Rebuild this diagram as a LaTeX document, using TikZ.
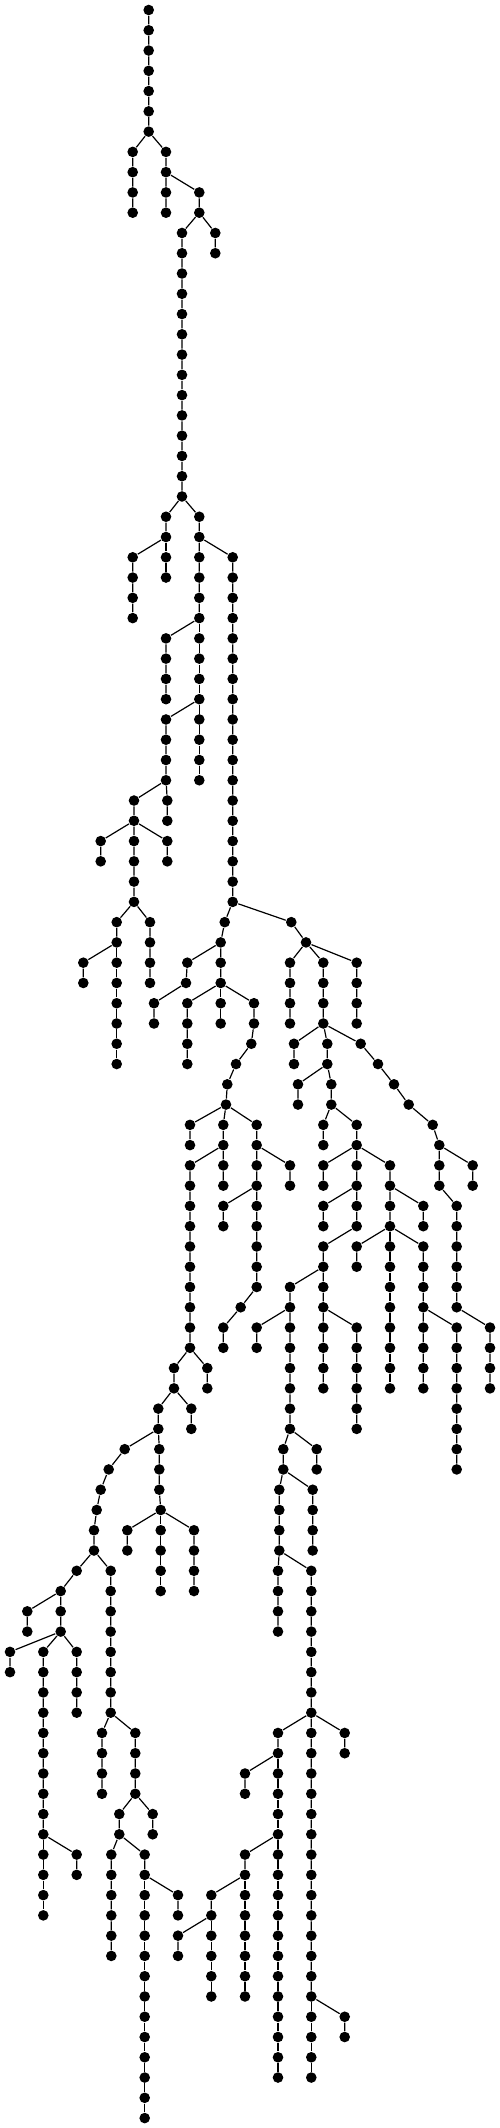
\documentclass[tikz,border=0pt]{standalone}
\usepackage{tikz}

\begin{document}
\begin{tikzpicture}[x=1pt,y=-20.27pt,line width=1.2pt,
	vtx/.style={circle,fill=black,inner sep=0pt,minimum size=10.6pt}]
\useasboundingbox (0,-0.4933) rectangle (500,104.49);
\node[vtx] (0) at (148.7,0) {}; \node[vtx] (1) at (148.7,1) {}; \node[vtx] (2) at (148.7,2) {};
\node[vtx] (3) at (148.7,3) {}; \node[vtx] (4) at (148.7,4) {}; \node[vtx] (5) at (148.7,5) {};
\node[vtx] (6) at (148.7,6) {};
\node[vtx] (7) at (132.7,7) {}; \node[vtx] (8) at (132.7,8) {}; \node[vtx] (9) at (132.7,9) {}; \node[vtx] (10) at (132.7,10) {};
\node[vtx] (11) at (166,7) {}; \node[vtx] (12) at (166,8) {}; \node[vtx] (13) at (166,9) {}; \node[vtx] (14) at (166,10) {};
\node[vtx] (15) at (199.3,9) {}; \node[vtx] (16) at (199.3,10) {};
\node[vtx] (17) at (215.3,11) {}; \node[vtx] (18) at (215.3,12) {};
\node[vtx] (19) at (182,11) {}; \node[vtx] (20) at (182,12) {}; \node[vtx] (21) at (182,13) {}; \node[vtx] (22) at (182,14) {};
\node[vtx] (23) at (182,15) {}; \node[vtx] (24) at (182,16) {}; \node[vtx] (25) at (182,17) {}; \node[vtx] (26) at (182,18) {};
\node[vtx] (27) at (182,19) {}; \node[vtx] (28) at (182,20) {}; \node[vtx] (29) at (182,21) {}; \node[vtx] (30) at (182,22) {};
\node[vtx] (31) at (182,23) {}; \node[vtx] (32) at (182,24) {};
\node[vtx] (33) at (166,25) {}; \node[vtx] (34) at (166,26) {};
\node[vtx] (35) at (132.7,27) {}; \node[vtx] (36) at (132.7,28) {}; \node[vtx] (37) at (132.7,29) {}; \node[vtx] (38) at (132.7,30) {};
\node[vtx] (39) at (166,27) {}; \node[vtx] (40) at (166,28) {};
\node[vtx] (41) at (199.3,25) {}; \node[vtx] (42) at (199.3,26) {};
\node[vtx] (43) at (232.7,27) {}; \node[vtx] (44) at (232.7,28) {}; \node[vtx] (45) at (232.7,29) {}; \node[vtx] (46) at (232.7,30) {};
\node[vtx] (47) at (232.7,31) {}; \node[vtx] (48) at (232.7,32) {}; \node[vtx] (49) at (232.7,33) {}; \node[vtx] (50) at (232.7,34) {};
\node[vtx] (51) at (232.7,35) {}; \node[vtx] (52) at (232.7,36) {}; \node[vtx] (53) at (232.7,37) {}; \node[vtx] (54) at (232.7,38) {};
\node[vtx] (55) at (232.7,39) {}; \node[vtx] (56) at (232.7,40) {}; \node[vtx] (57) at (232.7,41) {}; \node[vtx] (58) at (232.7,42) {};
\node[vtx] (59) at (232.7,43) {}; \node[vtx] (60) at (232.7,44) {};
\node[vtx] (61) at (199.3,27) {}; \node[vtx] (62) at (199.3,28) {}; \node[vtx] (63) at (199.3,29) {}; \node[vtx] (64) at (199.3,30) {};
\node[vtx] (65) at (166,31) {}; \node[vtx] (66) at (166,32) {}; \node[vtx] (67) at (166,33) {}; \node[vtx] (68) at (166,34) {};
\node[vtx] (69) at (199.3,31) {}; \node[vtx] (70) at (199.3,32) {}; \node[vtx] (71) at (199.3,33) {}; \node[vtx] (72) at (199.3,34) {};
\node[vtx] (73) at (199.3,35) {}; \node[vtx] (74) at (199.3,36) {}; \node[vtx] (75) at (199.3,37) {}; \node[vtx] (76) at (199.3,38) {};
\node[vtx] (77) at (166,35) {}; \node[vtx] (78) at (166,36) {}; \node[vtx] (79) at (166,37) {}; \node[vtx] (80) at (166,38) {};
\node[vtx] (81) at (167.3,39) {}; \node[vtx] (82) at (167.3,40) {};
\node[vtx] (83) at (134,39) {}; \node[vtx] (84) at (134,40) {};
\node[vtx] (85) at (100.7,41) {}; \node[vtx] (86) at (100.7,42) {};
\node[vtx] (87) at (167.3,41) {}; \node[vtx] (88) at (167.3,42) {};
\node[vtx] (89) at (134,41) {}; \node[vtx] (90) at (134,42) {}; \node[vtx] (91) at (134,43) {}; \node[vtx] (92) at (134,44) {};
\node[vtx] (93) at (150,45) {}; \node[vtx] (94) at (150,46) {}; \node[vtx] (95) at (150,47) {}; \node[vtx] (96) at (150,48) {};
\node[vtx] (97) at (116.7,45) {}; \node[vtx] (98) at (116.7,46) {};
\node[vtx] (99) at (83.3,47) {}; \node[vtx] (100) at (83.3,48) {};
\node[vtx] (101) at (116.7,47) {}; \node[vtx] (102) at (116.7,48) {}; \node[vtx] (103) at (116.7,49) {};
\node[vtx] (104) at (116.7,50) {}; \node[vtx] (105) at (116.7,51) {}; \node[vtx] (106) at (116.7,52) {};
\node[vtx] (107) at (224.7,45) {}; \node[vtx] (108) at (220.7,46) {};
\node[vtx] (109) at (187.3,47) {}; \node[vtx] (110) at (186,48) {}; \node[vtx] (111) at (154,49) {}; \node[vtx] (112) at (154,50) {};
\node[vtx] (113) at (220.7,47) {}; \node[vtx] (114) at (220.7,48) {};
\node[vtx] (115) at (187.3,49) {}; \node[vtx] (116) at (187.3,50) {}; \node[vtx] (117) at (187.3,51) {}; \node[vtx] (118) at (187.3,52) {};
\node[vtx] (119) at (220.7,49) {}; \node[vtx] (120) at (220.7,50) {};
\node[vtx] (121) at (254,49) {}; \node[vtx] (122) at (254,50) {}; \node[vtx] (123) at (251.3,51) {};
\node[vtx] (124) at (236,52) {}; \node[vtx] (125) at (227.3,53) {}; \node[vtx] (126) at (226,54) {};
\node[vtx] (127) at (190,55) {}; \node[vtx] (128) at (190,56) {};
\node[vtx] (129) at (223.3,55) {}; \node[vtx] (130) at (223.3,56) {};
\node[vtx] (131) at (223.3,57) {}; \node[vtx] (132) at (223.3,58) {};
\node[vtx] (133) at (190,57) {}; \node[vtx] (134) at (190,58) {}; \node[vtx] (135) at (190,59) {}; \node[vtx] (136) at (190,60) {};
\node[vtx] (137) at (190,61) {}; \node[vtx] (138) at (190,62) {}; \node[vtx] (139) at (190,63) {}; \node[vtx] (140) at (190,64) {};
\node[vtx] (141) at (190,65) {}; \node[vtx] (142) at (190,66) {};
\node[vtx] (143) at (207.3,67) {}; \node[vtx] (144) at (207.3,68) {};
\node[vtx] (145) at (174,67) {}; \node[vtx] (146) at (174,68) {};
\node[vtx] (147) at (191.3,69) {}; \node[vtx] (148) at (191.3,70) {};
\node[vtx] (149) at (158.3,69) {}; \node[vtx] (150) at (158.3,70) {};
\node[vtx] (151) at (124.7,71) {}; \node[vtx] (152) at (108.7,72) {}; \node[vtx] (153) at (100.7,73) {};
\node[vtx] (154) at (96.7,74) {}; \node[vtx] (155) at (94,75) {}; \node[vtx] (156) at (94,76) {};
\node[vtx] (157) at (76.7,77) {}; \node[vtx] (158) at (60.7,78) {};
\node[vtx] (159) at (27.3,79) {}; \node[vtx] (160) at (27.3,80) {};
\node[vtx] (161) at (60.7,79) {}; \node[vtx] (162) at (60.7,80) {};
\node[vtx] (163) at (10,81) {}; \node[vtx] (164) at (10,82) {};
\node[vtx] (165) at (76.7,81) {}; \node[vtx] (166) at (76.7,82) {}; \node[vtx] (167) at (76.7,83) {}; \node[vtx] (168) at (76.7,84) {};
\node[vtx] (169) at (43.3,81) {}; \node[vtx] (170) at (43.3,82) {}; \node[vtx] (171) at (43.3,83) {}; \node[vtx] (172) at (43.3,84) {};
\node[vtx] (173) at (43.3,85) {}; \node[vtx] (174) at (43.3,86) {}; \node[vtx] (175) at (43.3,87) {}; \node[vtx] (176) at (43.3,88) {};
\node[vtx] (177) at (43.3,89) {}; \node[vtx] (178) at (43.3,90) {};
\node[vtx] (179) at (76.7,91) {}; \node[vtx] (180) at (76.7,92) {};
\node[vtx] (181) at (43.3,91) {}; \node[vtx] (182) at (43.3,92) {}; \node[vtx] (183) at (43.3,93) {}; \node[vtx] (184) at (43.3,94) {};
\node[vtx] (185) at (110.7,77) {}; \node[vtx] (186) at (110.7,78) {}; \node[vtx] (187) at (110.7,79) {}; \node[vtx] (188) at (110.7,80) {};
\node[vtx] (189) at (110.7,81) {}; \node[vtx] (190) at (110.7,82) {}; \node[vtx] (191) at (110.7,83) {}; \node[vtx] (192) at (110.7,84) {};
\node[vtx] (193) at (102,85) {}; \node[vtx] (194) at (102,86) {}; \node[vtx] (195) at (102,87) {}; \node[vtx] (196) at (102,88) {};
\node[vtx] (197) at (135.3,85) {}; \node[vtx] (198) at (135.3,86) {}; \node[vtx] (199) at (135.3,87) {}; \node[vtx] (200) at (135.3,88) {};
\node[vtx] (201) at (152.7,89) {}; \node[vtx] (202) at (152.7,90) {};
\node[vtx] (203) at (119.3,89) {}; \node[vtx] (204) at (119.3,90) {};
\node[vtx] (205) at (111.3,91) {}; \node[vtx] (206) at (111.3,92) {}; \node[vtx] (207) at (111.3,93) {};
\node[vtx] (208) at (111.3,94) {}; \node[vtx] (209) at (111.3,95) {}; \node[vtx] (210) at (111.3,96) {};
\node[vtx] (211) at (144.7,91) {}; \node[vtx] (212) at (144.7,92) {};
\node[vtx] (213) at (178,93) {}; \node[vtx] (214) at (178,94) {};
\node[vtx] (215) at (144.7,93) {}; \node[vtx] (216) at (144.7,94) {}; \node[vtx] (217) at (144.7,95) {}; \node[vtx] (218) at (144.7,96) {};
\node[vtx] (219) at (144.7,97) {}; \node[vtx] (220) at (144.7,98) {}; \node[vtx] (221) at (144.7,99) {}; \node[vtx] (222) at (144.7,100) {};
\node[vtx] (223) at (144.7,101) {}; \node[vtx] (224) at (144.7,102) {}; \node[vtx] (225) at (144.7,103) {}; \node[vtx] (226) at (144.7,104) {};
\node[vtx] (227) at (159.3,71) {}; \node[vtx] (228) at (159.3,72) {}; \node[vtx] (229) at (159.3,73) {}; \node[vtx] (230) at (160.7,74) {};
\node[vtx] (231) at (127.3,75) {}; \node[vtx] (232) at (127.3,76) {};
\node[vtx] (233) at (160.7,75) {}; \node[vtx] (234) at (160.7,76) {}; \node[vtx] (235) at (160.7,77) {}; \node[vtx] (236) at (160.7,78) {};
\node[vtx] (237) at (194,75) {}; \node[vtx] (238) at (194,76) {}; \node[vtx] (239) at (194,77) {}; \node[vtx] (240) at (194,78) {};
\node[vtx] (241) at (256.7,55) {}; \node[vtx] (242) at (256.7,56) {};
\node[vtx] (243) at (290,57) {}; \node[vtx] (244) at (290,58) {};
\node[vtx] (245) at (256.7,57) {}; \node[vtx] (246) at (256.7,58) {};
\node[vtx] (247) at (223.3,59) {}; \node[vtx] (248) at (223.3,60) {};
\node[vtx] (249) at (256.7,59) {}; \node[vtx] (250) at (256.7,60) {}; \node[vtx] (251) at (256.7,61) {};
\node[vtx] (252) at (256.7,62) {}; \node[vtx] (253) at (256.7,63) {};
\node[vtx] (254) at (240.7,64) {}; \node[vtx] (255) at (223.3,65) {}; \node[vtx] (256) at (223.3,66) {};
\node[vtx] (257) at (291.3,45) {}; \node[vtx] (258) at (306,46) {};
\node[vtx] (259) at (290,47) {}; \node[vtx] (260) at (290,48) {}; \node[vtx] (261) at (290,49) {}; \node[vtx] (262) at (290,50) {};
\node[vtx] (263) at (356.7,47) {}; \node[vtx] (264) at (356.7,48) {}; \node[vtx] (265) at (356.7,49) {}; \node[vtx] (266) at (356.7,50) {};
\node[vtx] (267) at (323.3,47) {}; \node[vtx] (268) at (323.3,48) {}; \node[vtx] (269) at (323.3,49) {}; \node[vtx] (270) at (323.3,50) {};
\node[vtx] (271) at (294,51) {}; \node[vtx] (272) at (294,52) {};
\node[vtx] (273) at (327.3,51) {}; \node[vtx] (274) at (327.3,52) {};
\node[vtx] (275) at (298,53) {}; \node[vtx] (276) at (298,54) {};
\node[vtx] (277) at (331.3,53) {}; \node[vtx] (278) at (331.3,54) {};
\node[vtx] (279) at (323.3,55) {}; \node[vtx] (280) at (323.3,56) {};
\node[vtx] (281) at (356.7,55) {}; \node[vtx] (282) at (356.7,56) {}; \node[vtx] (283) at (356.7,57) {}; \node[vtx] (284) at (356.7,58) {};
\node[vtx] (285) at (323.3,57) {}; \node[vtx] (286) at (323.3,58) {};
\node[vtx] (287) at (390,57) {}; \node[vtx] (288) at (390,58) {}; \node[vtx] (289) at (390,59) {}; \node[vtx] (290) at (390,60) {};
\node[vtx] (291) at (423.3,59) {}; \node[vtx] (292) at (423.3,60) {};
\node[vtx] (293) at (323.3,59) {}; \node[vtx] (294) at (323.3,60) {};
\node[vtx] (295) at (356.7,59) {}; \node[vtx] (296) at (356.7,60) {};
\node[vtx] (297) at (323.3,61) {}; \node[vtx] (298) at (323.3,62) {}; \node[vtx] (299) at (323.3,63) {}; \node[vtx] (300) at (323.3,64) {};
\node[vtx] (301) at (290,63) {}; \node[vtx] (302) at (290,64) {}; \node[vtx] (303) at (290,65) {}; \node[vtx] (304) at (290,66) {};
\node[vtx] (305) at (290,67) {}; \node[vtx] (306) at (290,68) {}; \node[vtx] (307) at (290,69) {}; \node[vtx] (308) at (290,70) {};
\node[vtx] (309) at (256.7,65) {}; \node[vtx] (310) at (256.7,66) {};
\node[vtx] (311) at (316.7,71) {}; \node[vtx] (312) at (316.7,72) {};
\node[vtx] (313) at (283.3,71) {}; \node[vtx] (314) at (283.3,72) {};
\node[vtx] (315) at (312.7,73) {}; \node[vtx] (316) at (312.7,74) {}; \node[vtx] (317) at (312.7,75) {}; \node[vtx] (318) at (312.7,76) {};
\node[vtx] (319) at (279.3,73) {}; \node[vtx] (320) at (279.3,74) {}; \node[vtx] (321) at (279.3,75) {}; \node[vtx] (322) at (279.3,76) {};
\node[vtx] (323) at (311.3,77) {}; \node[vtx] (324) at (311.3,78) {}; \node[vtx] (325) at (311.3,79) {}; \node[vtx] (326) at (311.3,80) {};
\node[vtx] (327) at (311.3,81) {}; \node[vtx] (328) at (311.3,82) {}; \node[vtx] (329) at (311.3,83) {}; \node[vtx] (330) at (311.3,84) {};
\node[vtx] (331) at (311.3,85) {}; \node[vtx] (332) at (311.3,86) {}; \node[vtx] (333) at (311.3,87) {}; \node[vtx] (334) at (311.3,88) {};
\node[vtx] (335) at (311.3,89) {}; \node[vtx] (336) at (311.3,90) {}; \node[vtx] (337) at (311.3,91) {}; \node[vtx] (338) at (311.3,92) {};
\node[vtx] (339) at (311.3,93) {}; \node[vtx] (340) at (311.3,94) {}; \node[vtx] (341) at (311.3,95) {}; \node[vtx] (342) at (311.3,96) {};
\node[vtx] (343) at (311.3,97) {}; \node[vtx] (344) at (311.3,98) {};
\node[vtx] (345) at (344.7,85) {}; \node[vtx] (346) at (344.7,86) {};
\node[vtx] (347) at (278,85) {}; \node[vtx] (348) at (278,86) {};
\node[vtx] (349) at (245,87) {}; \node[vtx] (350) at (245,88) {};
\node[vtx] (351) at (278,87) {}; \node[vtx] (352) at (278,88) {}; \node[vtx] (353) at (278,89) {}; \node[vtx] (354) at (278,90) {};
\node[vtx] (355) at (245,91) {}; \node[vtx] (356) at (245,92) {};
\node[vtx] (357) at (211.3,93) {}; \node[vtx] (358) at (211.3,94) {};
\node[vtx] (359) at (178,95) {}; \node[vtx] (360) at (178,96) {};
\node[vtx] (361) at (211.3,95) {}; \node[vtx] (362) at (211.3,96) {}; \node[vtx] (363) at (211.3,97) {}; \node[vtx] (364) at (211.3,98) {};
\node[vtx] (365) at (245,93) {}; \node[vtx] (366) at (245,94) {}; \node[vtx] (367) at (245,95) {};
\node[vtx] (368) at (245,96) {}; \node[vtx] (369) at (245,97) {}; \node[vtx] (370) at (245,98) {};
\node[vtx] (371) at (278,91) {}; \node[vtx] (372) at (278,92) {}; \node[vtx] (373) at (278,93) {}; \node[vtx] (374) at (278,94) {};
\node[vtx] (375) at (278,95) {}; \node[vtx] (376) at (278,96) {}; \node[vtx] (377) at (278,97) {}; \node[vtx] (378) at (278,98) {};
\node[vtx] (379) at (278,99) {}; \node[vtx] (380) at (278,100) {}; \node[vtx] (381) at (278,101) {}; \node[vtx] (382) at (278,102) {};
\node[vtx] (383) at (344.7,99) {}; \node[vtx] (384) at (344.7,100) {};
\node[vtx] (385) at (311.3,99) {}; \node[vtx] (386) at (311.3,100) {}; \node[vtx] (387) at (311.3,101) {}; \node[vtx] (388) at (311.3,102) {};
\node[vtx] (389) at (278,77) {}; \node[vtx] (390) at (278,78) {}; \node[vtx] (391) at (278,79) {}; \node[vtx] (392) at (278,80) {};
\node[vtx] (393) at (323.3,65) {}; \node[vtx] (394) at (323.3,66) {}; \node[vtx] (395) at (323.3,67) {}; \node[vtx] (396) at (323.3,68) {};
\node[vtx] (397) at (356.7,65) {}; \node[vtx] (398) at (356.7,66) {}; \node[vtx] (399) at (356.7,67) {};
\node[vtx] (400) at (356.7,68) {}; \node[vtx] (401) at (356.7,69) {}; \node[vtx] (402) at (356.7,70) {};
\node[vtx] (403) at (356.7,61) {}; \node[vtx] (404) at (356.7,62) {};
\node[vtx] (405) at (390,61) {}; \node[vtx] (406) at (390,62) {}; \node[vtx] (407) at (390,63) {}; \node[vtx] (408) at (390,64) {};
\node[vtx] (409) at (390,65) {}; \node[vtx] (410) at (390,66) {}; \node[vtx] (411) at (390,67) {}; \node[vtx] (412) at (390,68) {};
\node[vtx] (413) at (423.3,61) {}; \node[vtx] (414) at (423.3,62) {}; \node[vtx] (415) at (423.3,63) {}; \node[vtx] (416) at (423.3,64) {};
\node[vtx] (417) at (423.3,65) {}; \node[vtx] (418) at (423.3,66) {}; \node[vtx] (419) at (423.3,67) {}; \node[vtx] (420) at (423.3,68) {};
\node[vtx] (421) at (456.7,65) {}; \node[vtx] (422) at (456.7,66) {}; \node[vtx] (423) at (456.7,67) {}; \node[vtx] (424) at (456.7,68) {};
\node[vtx] (425) at (456.7,69) {}; \node[vtx] (426) at (456.7,70) {}; \node[vtx] (427) at (456.7,71) {}; \node[vtx] (428) at (456.7,72) {};
\node[vtx] (429) at (360.7,51) {}; \node[vtx] (430) at (378,52) {}; \node[vtx] (431) at (394,53) {};
\node[vtx] (432) at (408.7,54) {}; \node[vtx] (433) at (432.7,55) {}; \node[vtx] (434) at (439.3,56) {};
\node[vtx] (435) at (472.7,57) {}; \node[vtx] (436) at (472.7,58) {};
\node[vtx] (437) at (439.3,57) {}; \node[vtx] (438) at (439.3,58) {};
\node[vtx] (439) at (456.7,59) {}; \node[vtx] (440) at (456.7,60) {}; \node[vtx] (441) at (456.7,61) {};
\node[vtx] (442) at (456.7,62) {}; \node[vtx] (443) at (456.7,63) {}; \node[vtx] (444) at (456.7,64) {};
\node[vtx] (445) at (490,65) {}; \node[vtx] (446) at (490,66) {}; \node[vtx] (447) at (490,67) {}; \node[vtx] (448) at (490,68) {};
\draw (0)--(1)--(2)--(3)--(4)--(5)--(6)--(7)--(8)--(9)--(10);
\draw (6)--(11)--(12)--(13)--(14);
\draw (12)--(15)--(16)--(17)--(18);
\draw (16)--(19)--(20)--(21)--(22)--(23)--(24)--(25)--(26)--(27)--(28)--(29)--(30)--(31)--(32)--(33)--(34)--(35)--(36)--(37)--(38);
\draw (34)--(39)--(40);
\draw (32)--(41)--(42)--(43)--(44)--(45)--(46)--(47)--(48)--(49)--(50)--(51)--(52)--(53)--(54)--(55)--(56)--(57)--(58)--(59)--(60);
\draw (42)--(61)--(62)--(63)--(64)--(65)--(66)--(67)--(68);
\draw (64)--(69)--(70)--(71)--(72)--(73)--(74)--(75)--(76);
\draw (72)--(77)--(78)--(79)--(80)--(81)--(82);
\draw (80)--(83)--(84)--(85)--(86);
\draw (84)--(87)--(88);
\draw (84)--(89)--(90)--(91)--(92)--(93)--(94)--(95)--(96);
\draw (92)--(97)--(98)--(99)--(100);
\draw (98)--(101)--(102)--(103)--(104)--(105)--(106);
\draw (60)--(107)--(108)--(109)--(110)--(111)--(112);
\draw (108)--(113)--(114)--(115)--(116)--(117)--(118);
\draw (114)--(119)--(120);
\draw (114)--(121)--(122)--(123)--(124)--(125)--(126)--(127)--(128);
\draw (126)--(129)--(130)--(131)--(132);
\draw (130)--(133)--(134)--(135)--(136)--(137)--(138)--(139)--(140)--(141)--(142)--(143)--(144);
\draw (142)--(145)--(146)--(147)--(148);
\draw (146)--(149)--(150)--(151)--(152)--(153)--(154)--(155)--(156)--(157)--(158)--(159)--(160);
\draw (158)--(161)--(162)--(163)--(164);
\draw (162)--(165)--(166)--(167)--(168);
\draw (162)--(169)--(170)--(171)--(172)--(173)--(174)--(175)--(176)--(177)--(178)--(179)--(180);
\draw (178)--(181)--(182)--(183)--(184);
\draw (156)--(185)--(186)--(187)--(188)--(189)--(190)--(191)--(192)--(193)--(194)--(195)--(196);
\draw (192)--(197)--(198)--(199)--(200)--(201)--(202);
\draw (200)--(203)--(204)--(205)--(206)--(207)--(208)--(209)--(210);
\draw (204)--(211)--(212)--(213)--(214);
\draw (212)--(215)--(216)--(217)--(218)--(219)--(220)--(221)--(222)--(223)--(224)--(225)--(226);
\draw (150)--(227)--(228)--(229)--(230)--(231)--(232);
\draw (230)--(233)--(234)--(235)--(236);
\draw (230)--(237)--(238)--(239)--(240);
\draw (126)--(241)--(242)--(243)--(244);
\draw (242)--(245)--(246)--(247)--(248);
\draw (246)--(249)--(250)--(251)--(252)--(253)--(254)--(255)--(256);
\draw (60)--(257)--(258)--(259)--(260)--(261)--(262);
\draw (258)--(263)--(264)--(265)--(266);
\draw (258)--(267)--(268)--(269)--(270)--(271)--(272);
\draw (270)--(273)--(274)--(275)--(276);
\draw (274)--(277)--(278)--(279)--(280);
\draw (278)--(281)--(282)--(283)--(284)--(293)--(294);
\draw (282)--(285)--(286);
\draw (282)--(287)--(288)--(289)--(290);
\draw (288)--(291)--(292);
\draw (284)--(295)--(296)--(297)--(298)--(299)--(300)--(393)--(394)--(395)--(396);
\draw (298)--(301)--(302)--(303)--(304)--(305)--(306)--(307)--(308)--(311)--(312);
\draw (302)--(309)--(310);
\draw (308)--(313)--(314)--(315)--(316)--(317)--(318);
\draw (314)--(319)--(320)--(321)--(322)--(389)--(390)--(391)--(392);
\draw (322)--(323)--(324)--(325)--(326)--(327)--(328)--(329)--(330)--(331)--(332)--(333)--(334)--(335)--(336)--(337)--(338)--(339)--(340)--(341)--(342)--(343)--(344)--(383)--(384);
\draw (330)--(345)--(346);
\draw (330)--(347)--(348)--(349)--(350);
\draw (348)--(351)--(352)--(353)--(354)--(371)--(372)--(373)--(374)--(375)--(376)--(377)--(378)--(379)--(380)--(381)--(382);
\draw (354)--(355)--(356)--(357)--(358)--(359)--(360);
\draw (358)--(361)--(362)--(363)--(364);
\draw (356)--(365)--(366)--(367)--(368)--(369)--(370);
\draw (344)--(385)--(386)--(387)--(388);
\draw (300)--(397)--(398)--(399)--(400)--(401)--(402);
\draw (290)--(403)--(404);
\draw (290)--(405)--(406)--(407)--(408)--(409)--(410)--(411)--(412);
\draw (290)--(413)--(414)--(415)--(416)--(417)--(418)--(419)--(420);
\draw (416)--(421)--(422)--(423)--(424)--(425)--(426)--(427)--(428);
\draw (270)--(429)--(430)--(431)--(432)--(433)--(434)--(435)--(436);
\draw (434)--(437)--(438)--(439)--(440)--(441)--(442)--(443)--(444)--(445)--(446)--(447)--(448);
\end{tikzpicture}
\end{document}
